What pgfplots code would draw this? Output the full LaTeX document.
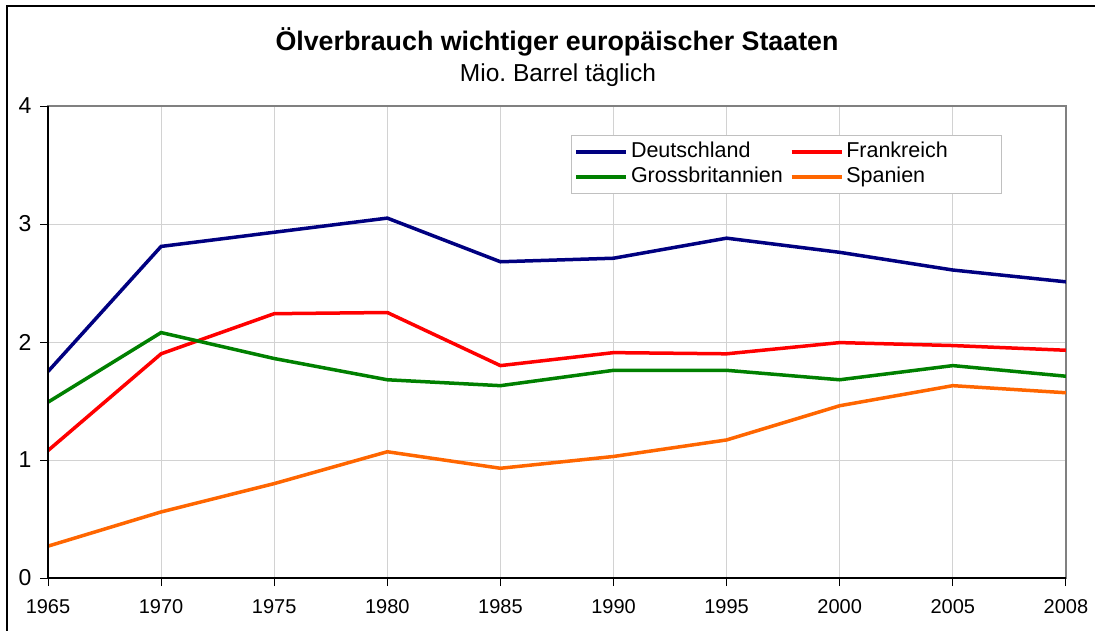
\documentclass[border=0pt]{standalone}
\usepackage{fontspec}
\setmainfont{Liberation Sans}
\usepackage{pgfplots}
\pgfplotsset{compat=1.18}
\definecolor{deNavy}{RGB}{0,0,128}
\definecolor{frRed}{RGB}{255,0,0}
\definecolor{gbGreen}{RGB}{0,128,0}
\definecolor{esOrange}{RGB}{255,102,0}
\definecolor{gridgray}{RGB}{210,210,210}
\definecolor{boxgray}{RGB}{128,128,128}
\definecolor{leggray}{RGB}{192,192,192}
\frenchspacing
\begin{document}
\begin{tikzpicture}[x=1bp,y=1bp]
\useasboundingbox (0,0) rectangle (1095,-631);
\draw[black, line width=1.3bp] (7,-631) -- (7,-6) -- (1095,-6);
\node[font=\fontsize{26.8bp}{32bp}\selectfont\bfseries, anchor=base] at (557,-51) {Ölverbrauch wichtiger europäischer Staaten};
\node[font=\fontsize{24.5bp}{29bp}\selectfont, anchor=base] at (558,-82) {Mio. Barrel täglich};
\begin{axis}[
  at={(48bp,-578bp)}, anchor=south west,
  width=1018bp, height=472bp, scale only axis,
  xmin=0, xmax=9, ymin=0, ymax=4,
  xtick={0,1,2,3,4,5,6,7,8,9},
  xticklabels={1965,1970,1975,1980,1985,1990,1995,2000,2005,2008},
  ytick={0,1,2,3,4},
  grid=major, major grid style={gridgray, line width=0.9bp},
  axis line style={boxgray, line width=1.2bp},
  tick style={black, line width=1bp}, tick align=outside, major tick length=8bp,
  xtick pos=left, ytick pos=left,
  x tick label style={font=\fontsize{20bp}{24bp}\selectfont, yshift=-10bp},
  y tick label style={font=\fontsize{23bp}{28bp}\selectfont, xshift=-5bp},
  /pgf/number format/assume math mode=true,
  every axis plot/.append style={line width=3.5bp},
  legend style={at={(0.5138,0.9386)}, anchor=north west, draw=leggray, line width=1bp, fill=white,
    font=\fontsize{21.5bp}{25bp}\selectfont, inner xsep=3bp, inner ysep=4bp, row sep=0bp,
    nodes={inner xsep=3bp, inner ysep=2.5bp, text height=16bp, text depth=4bp}},
  legend columns=2, legend cell align=left,
  /tikz/every even column/.append style={column sep=4bp},
  legend image code/.code={\draw[#1, line width=3.5bp] (0bp,0bp) -- (50bp,0bp);},
  after end axis/.code={\draw[black, line width=1.3bp] (rel axis cs:0,1) -- (rel axis cs:0,0) -- (rel axis cs:1,0);},
]
\addplot[deNavy] coordinates {(0,1.75) (1,2.81) (2,2.93) (3,3.05) (4,2.68) (5,2.71) (6,2.88) (7,2.76) (8,2.61) (9,2.51)};
\addlegendentry{Deutschland}
\addplot[frRed] coordinates {(0,1.08) (1,1.90) (2,2.24) (3,2.25) (4,1.80) (5,1.91) (6,1.90) (7,1.995) (8,1.97) (9,1.93)};
\addlegendentry{Frankreich\hspace*{48bp}}
\addplot[gbGreen] coordinates {(0,1.49) (1,2.08) (2,1.86) (3,1.68) (4,1.63) (5,1.76) (6,1.76) (7,1.68) (8,1.80) (9,1.71)};
\addlegendentry{Grossbritannien}
\addplot[esOrange] coordinates {(0,0.27) (1,0.56) (2,0.80) (3,1.07) (4,0.93) (5,1.03) (6,1.17) (7,1.46) (8,1.63) (9,1.57)};
\addlegendentry{Spanien}
\end{axis}
\end{tikzpicture}
\end{document}
